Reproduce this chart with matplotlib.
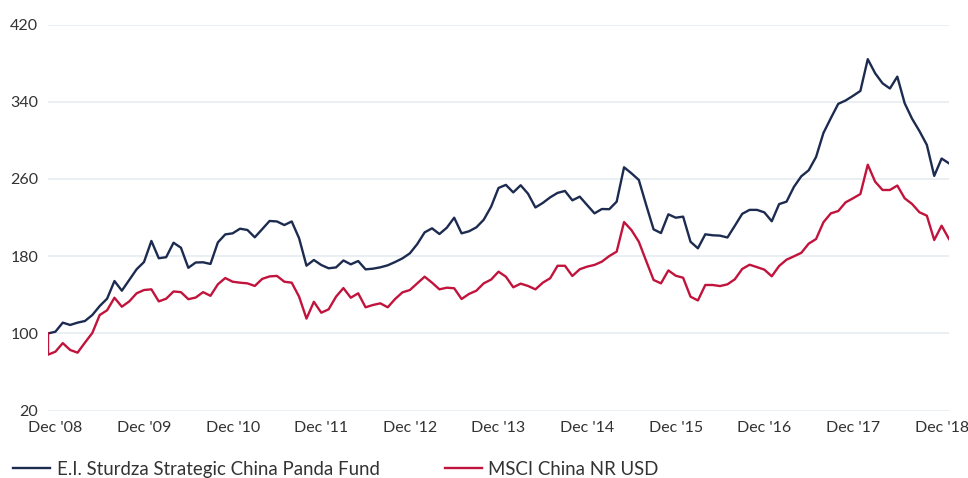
import matplotlib
matplotlib.use("Agg")
import matplotlib.pyplot as plt
import numpy as np

plt.rcParams["font.family"] = ["Lato", "DejaVu Sans"]

# Monthly index values, rebased to 100
fund = [
    100.0, 101.8, 111.2, 108.8, 111.2, 112.9, 119.1, 128.4, 136.0, 154.3,
    144.3, 155.4, 166.5, 174.0, 195.8, 177.9, 179.0, 194.0, 188.8, 168.0,
    173.5, 173.7, 172.0, 194.3, 202.6, 203.7, 208.5, 207.2, 199.6, 208.0,
    216.5, 216.0, 212.3, 216.0, 198.6, 170.2, 176.1, 170.9, 167.5, 168.4,
    175.6, 171.6, 175.0, 166.4, 167.1, 168.5, 170.6, 174.0, 177.8, 183.0,
    192.6, 204.7, 208.9, 203.0, 209.5, 219.9, 203.7, 205.8, 209.9, 217.8,
    231.3, 250.7, 253.9, 246.1, 253.5, 244.7, 230.5, 235.2, 241.0, 245.6,
    247.6, 237.9, 241.7, 233.0, 224.4, 228.9, 228.7, 236.5, 272.1, 265.9,
    259.0, 233.0, 207.8, 204.0, 223.4, 219.9, 221.0, 195.0, 188.2, 202.7,
    201.7, 201.3, 199.4, 211.5, 223.9, 228.0, 228.0, 225.4, 216.2, 234.0,
    236.5, 251.8, 262.8, 269.0, 282.8, 307.7, 323.0, 337.8, 341.3, 346.1,
    351.2, 384.1, 369.5, 359.1, 353.7, 366.0, 338.4, 322.4, 309.6, 295.3,
    263.2, 281.2, 276.2,
]

# the benchmark line opens at 100 and drops straight down on the first date
msci_start = 100.0
msci = [
    78.0, 81.1, 90.0, 82.9, 80.1, 90.5, 100.5, 119.1, 124.0, 137.0,
    127.7, 133.2, 141.6, 145.0, 145.7, 133.2, 136.0, 143.5, 142.8, 135.5,
    137.2, 142.8, 139.0, 150.9, 157.4, 153.6, 152.6, 151.9, 149.2, 156.5,
    159.1, 159.6, 153.6, 152.6, 138.1, 115.4, 132.8, 121.5, 125.0, 138.1,
    147.0, 137.0, 141.6, 127.1, 129.5, 131.2, 127.1, 135.7, 142.6, 145.0,
    151.9, 158.8, 152.6, 145.7, 147.4, 146.8, 135.7, 140.9, 144.3, 151.9,
    155.8, 164.0, 158.8, 147.8, 151.6, 149.2, 145.7, 152.6, 157.2, 170.1,
    170.1, 159.5, 166.5, 169.2, 171.0, 174.4, 180.2, 184.7, 215.4, 207.1,
    195.0, 175.0, 155.4, 151.9, 165.3, 159.8, 157.7, 138.1, 134.2, 150.2,
    150.2, 149.1, 150.9, 156.1, 166.8, 171.2, 168.7, 166.1, 159.2, 169.9,
    176.4, 179.9, 183.5, 193.0, 197.8, 215.2, 224.4, 226.8, 235.8, 240.0,
    244.4, 274.8, 257.2, 248.6, 248.6, 253.2, 240.0, 234.1, 225.5, 222.0,
    196.8, 211.6, 197.8,
]

tick_labels = ["Dec '08", "Dec '09", "Dec '10", "Dec '11", "Dec '12", "Dec '13",
               "Dec '14", "Dec '15", "Dec '16", "Dec '17", "Dec '18"]
y_ticks = [20, 100, 180, 260, 340, 420]

FUND_NAME = "E.I. Sturdza Strategic China Panda Fund"
MSCI_NAME = "MSCI China NR USD"
NAVY = "#1c2b4f"
CRIMSON = "#c1143c"
GRID = "#e8eef2"
TEXT = "#333333"

months = np.arange(len(fund))
msci_x = np.r_[months[0], months]
msci_y = np.r_[msci_start, msci]

fig = plt.figure(figsize=(9.68, 4.78), dpi=100)
ax = fig.add_axes([48 / 968, 1 - 410.7 / 478, 901 / 968, 386.2 / 478])

ax.plot(months, fund, color=NAVY, linewidth=1.7, label=FUND_NAME, zorder=3)
ax.plot(msci_x, msci_y, color=CRIMSON, linewidth=1.7, label=MSCI_NAME, zorder=3)

ax.set_xlim(months[0], months[-1])
ax.set_ylim(20, 420)
ax.set_yticks(y_ticks)
ax.set_xticks(months[1::12])
ax.set_xticklabels(tick_labels)

ax.grid(axis="y", color=GRID, linewidth=1.3, zorder=0)
ax.set_axisbelow(True)
for side in ax.spines.values():
    side.set_visible(False)
ax.tick_params(axis="both", length=0, labelsize=11.5, colors=TEXT)
ax.tick_params(axis="y", pad=7)
ax.tick_params(axis="x", pad=7.5)

fig.legend(loc="center left", bbox_to_anchor=(13 / 968, 1 - 469.5 / 478),
           ncol=2, frameon=False, fontsize=13.4, handlelength=2.0,
           handletextpad=0.35, columnspacing=3.5, borderpad=0,
           borderaxespad=0, labelcolor=TEXT)

fig.savefig("out.png", dpi=100)
plt.close(fig)
